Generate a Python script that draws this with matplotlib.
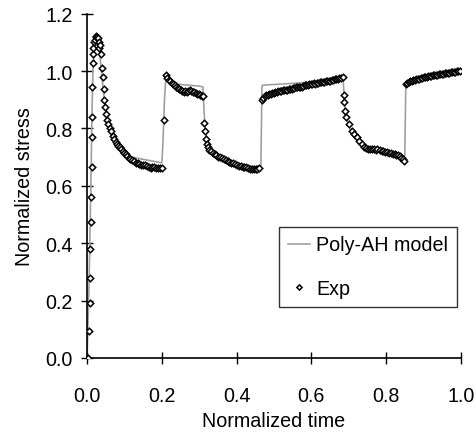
import matplotlib
matplotlib.use("Agg")
import matplotlib.pyplot as plt

plt.rcParams["font.family"] = ["Liberation Sans", "DejaVu Sans"]

# ================================
# Data
# ================================
model_t = [0.000, 0.005, 0.010, 0.013, 0.016, 0.020, 0.025, 0.030, 0.034, 0.038,
           0.042, 0.046, 0.050, 0.055, 0.060, 0.070, 0.080, 0.090, 0.100, 0.120,
           0.140, 0.160, 0.180, 0.200, 0.203, 0.207, 0.211, 0.220, 0.240, 0.260,
           0.280, 0.300, 0.310, 0.313, 0.316, 0.320, 0.330, 0.340, 0.360, 0.380,
           0.400, 0.420, 0.440, 0.460, 0.465, 0.468, 0.480, 0.520, 0.560, 0.600,
           0.640, 0.685, 0.687, 0.690, 0.700, 0.710, 0.720, 0.735, 0.750, 0.770,
           0.790, 0.810, 0.830, 0.848, 0.850, 0.853, 0.870, 0.900, 0.930, 0.960,
           1.000]
model_y = [0.000, 0.250, 0.600, 0.850, 1.020, 1.090, 1.110, 1.100, 1.060, 1.000,
           0.950, 0.900, 0.860, 0.820, 0.790, 0.760, 0.740, 0.725, 0.712, 0.700,
           0.695, 0.690, 0.685, 0.680, 0.750, 0.900, 0.980, 0.965, 0.955, 0.952,
           0.950, 0.948, 0.945, 0.860, 0.800, 0.765, 0.735, 0.720, 0.700, 0.688,
           0.678, 0.672, 0.668, 0.665, 0.665, 0.950, 0.952, 0.955, 0.958, 0.962,
           0.968, 0.978, 0.930, 0.870, 0.810, 0.780, 0.760, 0.742, 0.732, 0.725,
           0.717, 0.710, 0.702, 0.690, 0.690, 0.960, 0.965, 0.975, 0.985, 0.993,
           1.000]

exp_t = [
    # loading ramp and first peak
    0.002, 0.006, 0.007, 0.008, 0.009, 0.010, 0.011, 0.013, 0.013, 0.014,
    0.014, 0.015, 0.016, 0.017, 0.019, 0.021, 0.023, 0.025, 0.027, 0.029,
    0.031, 0.033,
    # first relaxation
    0.035, 0.037, 0.040, 0.043, 0.044, 0.045, 0.048, 0.051, 0.053, 0.056,
    0.060, 0.064, 0.068, 0.072, 0.076, 0.080, 0.084, 0.088, 0.092, 0.096,
    0.100, 0.104, 0.108, 0.112, 0.116, 0.120, 0.125, 0.130, 0.135, 0.140,
    0.145, 0.150, 0.155, 0.160, 0.165, 0.170, 0.175, 0.180, 0.185, 0.190,
    0.195, 0.200,
    # step 1
    0.206, 0.211, 0.215, 0.219, 0.223, 0.227, 0.231, 0.235, 0.239, 0.243,
    0.247, 0.251, 0.255, 0.259, 0.263, 0.267, 0.271, 0.275, 0.279, 0.283,
    0.287, 0.291, 0.295, 0.299, 0.303, 0.307, 0.311,
    # second relaxation
    0.313, 0.315, 0.317, 0.320, 0.323, 0.327, 0.331, 0.336, 0.341, 0.346,
    0.351, 0.356, 0.361, 0.366, 0.371, 0.376, 0.381, 0.386, 0.391, 0.396,
    0.401, 0.406, 0.411, 0.416, 0.421, 0.426, 0.431, 0.436, 0.441, 0.446,
    0.451, 0.456, 0.461,
    # step 2
    0.467, 0.471, 0.475, 0.479, 0.483, 0.487, 0.491, 0.495, 0.499, 0.503,
    0.507, 0.511, 0.515, 0.519, 0.523, 0.527, 0.531, 0.535, 0.539, 0.543,
    0.547, 0.551, 0.555, 0.559, 0.563, 0.567, 0.571, 0.575, 0.579, 0.583,
    0.587, 0.591, 0.595, 0.599, 0.603, 0.607, 0.611, 0.615, 0.619, 0.623,
    0.627, 0.631, 0.635, 0.639, 0.643, 0.647, 0.651, 0.655, 0.659, 0.663,
    0.667, 0.671, 0.675, 0.679, 0.684,
    # third relaxation
    0.687, 0.687, 0.689, 0.694, 0.700, 0.709, 0.715, 0.722, 0.728, 0.735,
    0.741, 0.747, 0.752, 0.757, 0.762, 0.767, 0.772, 0.777, 0.783, 0.788,
    0.793, 0.798, 0.803, 0.808, 0.813, 0.818, 0.823, 0.828, 0.833, 0.837,
    0.841, 0.845, 0.848,
    # step 3
    0.853, 0.857, 0.861, 0.865, 0.869, 0.873, 0.877, 0.881, 0.885, 0.889,
    0.893, 0.897, 0.901, 0.905, 0.909, 0.913, 0.917, 0.921, 0.925, 0.929,
    0.933, 0.937, 0.941, 0.945, 0.949, 0.953, 0.957, 0.961, 0.965, 0.969,
    0.973, 0.977, 0.981, 0.985, 0.989, 0.993, 0.997,
]
exp_y = [
    0.000, 0.095, 0.190, 0.280, 0.378, 0.475, 0.560, 0.665, 0.770, 0.840,
    0.944, 1.030, 1.060, 1.080, 1.100, 1.110, 1.120, 1.122, 1.120, 1.115,
    1.100, 1.080,
    1.090, 1.060, 1.010, 0.980, 0.937, 0.900, 0.875, 0.850, 0.830, 0.815,
    0.800, 0.790, 0.775, 0.763, 0.752, 0.745, 0.740, 0.735, 0.727, 0.720,
    0.715, 0.710, 0.703, 0.698, 0.694, 0.690, 0.685, 0.680, 0.678, 0.675,
    0.673, 0.671, 0.672, 0.668, 0.665, 0.663, 0.666, 0.664, 0.661, 0.663,
    0.662, 0.663,
    0.830, 0.985, 0.975, 0.968, 0.965, 0.960, 0.955, 0.950, 0.945, 0.940,
    0.937, 0.933, 0.930, 0.928, 0.930, 0.927, 0.930, 0.933, 0.930, 0.926,
    0.928, 0.925, 0.922, 0.920, 0.918, 0.915, 0.913,
    0.820, 0.790, 0.765, 0.745, 0.735, 0.726, 0.720, 0.716, 0.710, 0.706,
    0.702, 0.700, 0.697, 0.693, 0.690, 0.687, 0.684, 0.680, 0.678, 0.675,
    0.673, 0.670, 0.669, 0.667, 0.666, 0.664, 0.662, 0.660, 0.659, 0.658,
    0.657, 0.659, 0.662,
    0.900, 0.908, 0.912, 0.916, 0.918, 0.920, 0.922, 0.923, 0.925, 0.926,
    0.928, 0.929, 0.930, 0.931, 0.933, 0.934, 0.935, 0.934, 0.936, 0.937,
    0.938, 0.940, 0.941, 0.943, 0.944, 0.945, 0.944, 0.946, 0.948, 0.950,
    0.951, 0.953, 0.955, 0.955, 0.956, 0.957, 0.956, 0.958, 0.960, 0.961,
    0.962, 0.963, 0.962, 0.964, 0.966, 0.967, 0.967, 0.968, 0.970, 0.971,
    0.972, 0.973, 0.975, 0.976, 0.978,
    0.916, 0.891, 0.862, 0.840, 0.815, 0.792, 0.782, 0.772, 0.758, 0.745,
    0.737, 0.733, 0.730, 0.728, 0.727, 0.727, 0.726, 0.727, 0.726, 0.723,
    0.720, 0.718, 0.717, 0.716, 0.714, 0.712, 0.710, 0.708, 0.706, 0.704,
    0.698, 0.692, 0.687,
    0.955, 0.960, 0.963, 0.965, 0.966, 0.968, 0.969, 0.971, 0.972, 0.974,
    0.975, 0.977, 0.978, 0.979, 0.980, 0.982, 0.983, 0.984, 0.985, 0.986,
    0.987, 0.988, 0.989, 0.990, 0.990, 0.991, 0.992, 0.993, 0.994, 0.995,
    0.996, 0.997, 0.998, 0.998, 0.999, 1.000, 1.000,
]

x_ticks = [0.0, 0.2, 0.4, 0.6, 0.8, 1.0]
y_ticks = [0.0, 0.2, 0.4, 0.6, 0.8, 1.0, 1.2]

# ================================
# Plot
# ================================
fs = 14.2
fig = plt.figure(figsize=(4.76, 4.35), dpi=100)
ax = fig.add_axes([0.183, 0.175, 0.785, 0.791])

ax.plot(model_t, model_y, color="#a0a0a0", lw=1.2, label="Poly-AH model", zorder=2)
ax.plot(exp_t, exp_y, ls="none", marker="D", ms=3.3, mfc="white", mec="black",
        mew=1.1, label="Exp", zorder=3)

ax.set_xlim(0, 1.0)
ax.set_ylim(0, 1.2)
ax.set_xticks(x_ticks)
ax.set_yticks(y_ticks)
ax.set_xticklabels([f"{v:.1f}" for v in x_ticks])
ax.set_yticklabels([f"{v:.1f}" for v in y_ticks])

for s in ["top", "right"]:
    ax.spines[s].set_visible(False)
for s in ["left", "bottom"]:
    ax.spines[s].set_linewidth(1.2)

ax.tick_params(axis="x", direction="inout", length=8.5, width=1.0, labelsize=fs, pad=16)
ax.tick_params(axis="y", direction="inout", length=8.5, width=1.0, labelsize=fs, pad=6)

ax.set_xlabel("Normalized time", fontsize=fs, labelpad=4)
ax.set_ylabel("Normalized stress", fontsize=fs, labelpad=8)

leg = ax.legend(loc="lower right", bbox_to_anchor=(0.99, 0.148), fontsize=fs,
                frameon=True, fancybox=False, edgecolor="black", handlelength=1.15,
                labelspacing=1.25, borderpad=0.45, handletextpad=0.3, borderaxespad=0,
                markerscale=0.8)
leg.get_frame().set_linewidth(1.0)

fig.savefig("out.png", dpi=100)
